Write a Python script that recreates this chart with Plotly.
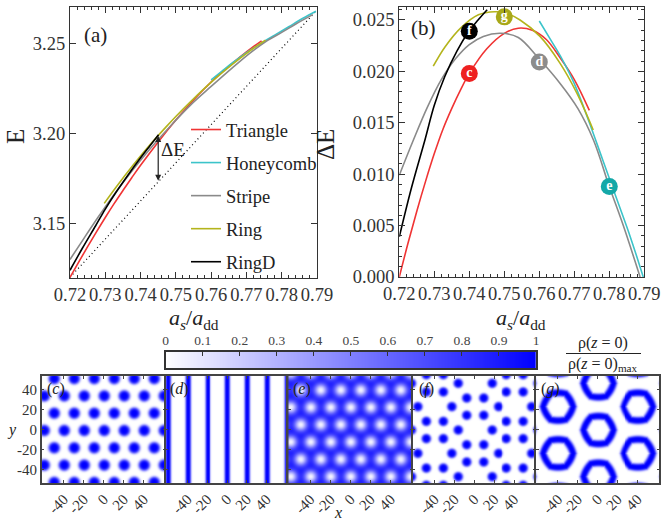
import numpy as np
import plotly.graph_objects as go

W, H = 662, 518
SERIF = "Liberation Serif, Times New Roman, DejaVu Serif, serif"

# ---------------- data: panel (b) energy differences ----------------
X_TRI = [0.720, 0.7225, 0.725, 0.7275, 0.730, 0.7325, 0.735, 0.7375, 0.740, 0.745, 0.750, 0.754, 0.758, 0.762, 0.766, 0.770, 0.7743]
DE_TRI = [0.0, 0.0033, 0.0064, 0.0093, 0.0120, 0.0144, 0.0164, 0.0182, 0.0198, 0.0222, 0.0237, 0.0242, 0.0240, 0.0231, 0.0213, 0.0192, 0.0162]

X_HON = [0.760, 0.763, 0.766, 0.770, 0.774, 0.778, 0.782, 0.786, 0.7897]
DE_HON = [0.0249, 0.0232, 0.0215, 0.0188, 0.0153, 0.0115, 0.0077, 0.0039, 0.0]

X_STR = [0.720, 0.724, 0.728, 0.732, 0.736, 0.740, 0.744, 0.749, 0.754, 0.760, 0.766, 0.771, 0.7755, 0.780, 0.784, 0.7888]
DE_STR = [0.0099, 0.0133, 0.0165, 0.0192, 0.0212, 0.0226, 0.0234, 0.0237, 0.0233, 0.0212, 0.0188, 0.0164, 0.0133, 0.0088, 0.0050, 0.0]

X_RNG = [0.7297, 0.7331, 0.7378, 0.7426, 0.7473, 0.7502, 0.7545, 0.7602, 0.7659, 0.7707, 0.7754]
DE_RNG = [0.0205, 0.0224, 0.0243, 0.0255, 0.0258, 0.0257, 0.0250, 0.0234, 0.0208, 0.0179, 0.0143]

X_RD = [0.720, 0.7235, 0.7273, 0.7300, 0.7330, 0.7365, 0.7399, 0.7425, 0.7451]
DE_RD = [0.0039, 0.0087, 0.0133, 0.0167, 0.0195, 0.0220, 0.0239, 0.0250, 0.0260]

# reference (dotted) line in panel (a)
BASE_X = [0.72, 0.79]
BASE_E = [3.1200, 3.2685]

# labelled state markers in panel (b)
MK_X = [0.740, 0.760, 0.780, 0.740, 0.750]
MK_Y = [0.0198, 0.0209, 0.0088, 0.0239, 0.0253]
MK_T = ["c", "d", "e", "f", "g"]
MK_C = ["#ee2020", "#8c8c8c", "#14a8a8", "#000000", "#a8a818"]

NAMES = ["Triangle", "Honeycomb", "Stripe", "Ring", "RingD"]
COLORS = ["#f03434", "#3cc4ca", "#8a8a8a", "#b4b41c", "#000000"]

# ---------------- data: density snapshots ----------------
C_A1, C_A2, C_ORIGIN, C_R0 = [20.0, 0.0], [10.0, 17.3], [0.0, 0.0], 5.8
D_STRIPES, D_W = [-60, -40, -20, 0, 20, 40, 60], 2.8
E_A1, E_A2, E_ORIGIN, E_R0 = [20.0, 0.0], [10.0, 17.3], [10.0, 5.8], 6.6
F_A1, F_A2, F_ORIGIN = [0.0, 46.7], [40.4, 23.35], [0.0, 0.5]
F_DOT_R, F_ANGLES, F_R0 = 17.0, [0, 60, 120, 180, 240, 300], 4.8
G_A1, G_A2, G_ORIGIN, G_HEX_R, G_W = [0.0, 46.7], [40.4, 23.35], [0.0, 0.5], 15.0, 3.8

CB_TICKS = [0, 0.1, 0.2, 0.3, 0.4, 0.5, 0.6, 0.7, 0.8, 0.9, 1]
HM_TICKS = [-40, -20, 0, 20, 40]

HX = np.arange(-62, 62.01, 1.0)
HY = np.arange(-54, 54.01, 1.0)
GX, GY = np.meshgrid(HX, HY)


def lattice(a1, a2, origin, extent=95):
    pts = []
    for i in range(-8, 9):
        for j in range(-8, 9):
            px = origin[0] + i * a1[0] + j * a2[0]
            py = origin[1] + i * a1[1] + j * a2[1]
            if abs(px) < extent and abs(py) < extent:
                pts.append((px, py))
    return pts


def spots(pts, r0, p=4):
    z = np.zeros_like(GX)
    for (px, py) in pts:
        r = np.hypot(GX - px, GY - py)
        z = np.maximum(z, np.exp(-(r / r0) ** p))
    return z


z_c = spots(lattice(C_A1, C_A2, C_ORIGIN), C_R0)
z_d = np.zeros_like(GX)
for sx in D_STRIPES:
    z_d = np.maximum(z_d, np.exp(-(np.abs(GX - sx) / D_W) ** 3))
holes = np.zeros_like(GX)
for (px, py) in lattice(E_A1, E_A2, E_ORIGIN):
    r = np.hypot(GX - px, GY - py)
    holes = holes + np.exp(-(r / E_R0) ** 2)
z_e = np.clip(1 - 0.95 * holes, 0, 1)
fdots = []
for (cx, cy) in lattice(F_A1, F_A2, F_ORIGIN):
    for a in F_ANGLES:
        fdots.append((cx + F_DOT_R * np.cos(np.radians(a)), cy + F_DOT_R * np.sin(np.radians(a))))
z_f = spots(fdots, F_R0)
z_g = np.zeros_like(GX)
for (cx, cy) in lattice(G_A1, G_A2, G_ORIGIN):
    dx_, dy_ = GX - cx, GY - cy
    r = np.hypot(dx_, dy_)
    th = np.degrees(np.arctan2(dy_, dx_)) % 60.0
    hexr = np.cos(np.radians(30)) / np.cos(np.radians(th - 30))
    rh = G_HEX_R * (0.45 + 0.55 * hexr)
    z_g = np.maximum(z_g, np.exp(-(np.abs(r - rh) / G_W) ** 3))

fig = go.Figure()

# ---------------- panel (a) ----------------
fig.add_trace(go.Scatter(x=BASE_X, y=BASE_E, mode="lines", line=dict(color="black", width=1.2, dash="1px,3px"),
                         showlegend=False, xaxis="x", yaxis="y"))
series = [(X_TRI, DE_TRI), (X_HON, DE_HON), (X_STR, DE_STR), (X_RNG, DE_RNG), (X_RD, DE_RD)]
for k, (xs, ds) in enumerate(series):
    e = np.interp(xs, BASE_X, BASE_E) + np.array(ds)
    fig.add_trace(go.Scatter(x=xs, y=e, mode="lines", name=NAMES[k], legendgroup=NAMES[k],
                             line=dict(color=COLORS[k], width=1.6, shape="spline"), xaxis="x", yaxis="y"))
# ---------------- panel (b) ----------------
for k, (xs, ds) in enumerate(series):
    fig.add_trace(go.Scatter(x=xs, y=ds, mode="lines", showlegend=False,
                             line=dict(color=COLORS[k], width=1.6, shape="spline"), xaxis="x2", yaxis="y2"))
fig.add_trace(go.Scatter(x=MK_X, y=MK_Y, mode="markers+text", text=MK_T, showlegend=False,
                         marker=dict(size=17, color=MK_C, line=dict(width=0)),
                         textposition="middle center",
                         textfont=dict(family=SERIF, size=14, color="white", weight="bold"),
                         xaxis="x2", yaxis="y2"))

# ---------------- heatmaps ----------------
CS = [[0, "#ffffff"], [1, "#0000ff"]]
for i, z in enumerate([z_c, z_d, z_e, z_f, z_g]):
    fig.add_trace(go.Heatmap(x=HX, y=HY, z=z, coloraxis="coloraxis", zsmooth="best",
                             xaxis=f"x{i+3}", yaxis=f"y{i+3}", hoverinfo="skip"))
cbv = np.linspace(0, 1, 256)
fig.add_trace(go.Heatmap(x=cbv, y=[0], z=[cbv], coloraxis="coloraxis", zsmooth="best",
                         xaxis="x8", yaxis="y8", hoverinfo="skip"))

AX = dict(showline=True, linecolor="#333", linewidth=1.3, mirror="allticks", ticks="inside",
          ticklen=6, tickcolor="#333", showgrid=False, zeroline=False, automargin=False,
          tickfont=dict(family=SERIF, size=18.5, color="#333"))

def dx(a, b):
    return [a / W, b / W]

def dy(top, bot):
    return [1 - bot / H, 1 - top / H]

XT = [0.72, 0.73, 0.74, 0.75, 0.76, 0.77, 0.78, 0.79]
layout = dict(
    width=W, height=H, margin=dict(l=0, r=0, t=0, b=0, autoexpand=False),
    paper_bgcolor="white", plot_bgcolor="white",
    coloraxis=dict(colorscale=CS, cmin=0, cmax=1, showscale=False),
    legend=dict(x=186 / W, y=1 - 111 / H, xanchor="left", yanchor="top",
                font=dict(family=SERIF, size=18.5, color="#222"), bgcolor="rgba(0,0,0,0)",
                tracegroupgap=6, itemwidth=30),
    xaxis=dict(AX, domain=dx(70, 317), range=[0.72, 0.79], anchor="y", tickangle=0,
               tickvals=XT, ticktext=["%.2f" % t for t in XT],
               minor=dict(dtick=0.002, ticks="inside", ticklen=3, tickcolor="#333")),
    yaxis=dict(AX, domain=dy(7, 278), range=[3.1196, 3.2702], anchor="x",
               tickvals=[3.15, 3.20, 3.25], ticktext=["3.15", "3.20", "3.25"]),
    xaxis2=dict(AX, domain=dx(399.3, 644.3), range=[0.72, 0.79], anchor="y2", tickangle=0,
                tickvals=XT, ticktext=["%.2f" % t for t in XT],
                minor=dict(dtick=0.002, ticks="inside", ticklen=3, tickcolor="#333")),
    yaxis2=dict(AX, domain=dy(7, 277), range=[0, 0.02626], anchor="x2",
                tickvals=[0, 0.005, 0.010, 0.015, 0.020, 0.025],
                ticktext=["0.000", "0.005", "0.010", "0.015", "0.020", "0.025"],
                minor=dict(dtick=0.001, ticks="inside", ticklen=3, tickcolor="#333")),
)

HMX = [(41.7, 165.7), (165.7, 288.3), (288.3, 412.7), (412.7, 536), (536, 659.3)]
for i, (a, b) in enumerate(HMX):
    n = i + 3
    common = dict(showline=True, linecolor="#444", linewidth=1.5, mirror="ticks", ticks="inside",
                  ticklen=3, tickcolor="#444", showgrid=False, zeroline=False, automargin=False,
                  tickfont=dict(family=SERIF, size=15, color="#333"))
    layout[f"xaxis{n}"] = dict(common, domain=dx(a, b), range=[-62, 62], anchor=f"y{n}",
                               tickvals=HM_TICKS, ticktext=[str(t) for t in HM_TICKS], tickangle=-45)
    layout[f"yaxis{n}"] = dict(common, domain=dy(376, 483), range=[-53.5, 53.5], anchor=f"x{n}",
                               tickvals=HM_TICKS, ticktext=[str(t) for t in HM_TICKS],
                               showticklabels=(i == 0))
layout["xaxis8"] = dict(domain=dx(165.7, 536), range=[0, 1], anchor="y8", side="top",
                        showline=True, linecolor="#333", linewidth=1.5, mirror=True, automargin=False,
                        ticks="inside", ticklen=5, tickcolor="#333", showgrid=False, zeroline=False,
                        tickvals=CB_TICKS, ticktext=[("%g" % t) for t in CB_TICKS], tickangle=0,
                        tickfont=dict(family=SERIF, size=13.5, color="#444"))
layout["yaxis8"] = dict(domain=dy(351.7, 368.3), range=[-0.5, 0.5], anchor="x8", automargin=False,
                        showline=True, linecolor="#333", linewidth=1.5, mirror=True,
                        showticklabels=False, ticks="", showgrid=False, zeroline=False)
fig.update_layout(**layout)

ann = []
def txt(x, y, s, size, angle=0, **kw):
    ann.append(dict(x=x / W, y=1 - y / H, xref="paper", yref="paper", text=s, showarrow=False,
                    font=dict(family=SERIF, size=size, color="#222"), textangle=angle,
                    xanchor="center", yanchor="middle", **kw))

txt(95, 35, "(a)", 21)
txt(423.5, 28, "(b)", 21)
txt(15, 137, "E", 25, angle=-90)
txt(325, 145, "ΔE", 25, angle=-90)
txt(173, 149, "ΔE", 19)
txt(194, 319, "<i>a</i><sub><i>s</i></sub>/<i>a</i><sub>dd</sub>", 22)
txt(521, 319, "<i>a</i><sub><i>s</i></sub>/<i>a</i><sub>dd</sub>", 22)
txt(603, 343, "ρ(<i>z</i> = 0)", 16)
txt(603, 364, "ρ(<i>z</i> = 0)<sub>max</sub>", 16)
txt(12, 430, "<i>y</i>", 16)
txt(338, 512, "<i>x</i>", 16)
for i, (a, b) in enumerate(HMX):
    txt(a + 14, 389, "(<i>%s</i>)" % "cdefg"[i], 16)
# double arrow for Delta E
ann.append(dict(x=0.745, y=3.1737, ax=0.745, ay=3.1994, xref="x", yref="y", axref="x", ayref="y",
                text="", showarrow=True, arrowhead=2, startarrowhead=2, arrowside="end+start",
                arrowsize=1, arrowwidth=1.2, arrowcolor="#222"))
fig.update_layout(annotations=ann,
                  shapes=[dict(type="line", xref="paper", yref="paper", x0=566 / W, x1=641 / W,
                               y0=1 - 353.5 / H, y1=1 - 353.5 / H, line=dict(color="#222", width=1.2))])

fig.write_html("out.html")
